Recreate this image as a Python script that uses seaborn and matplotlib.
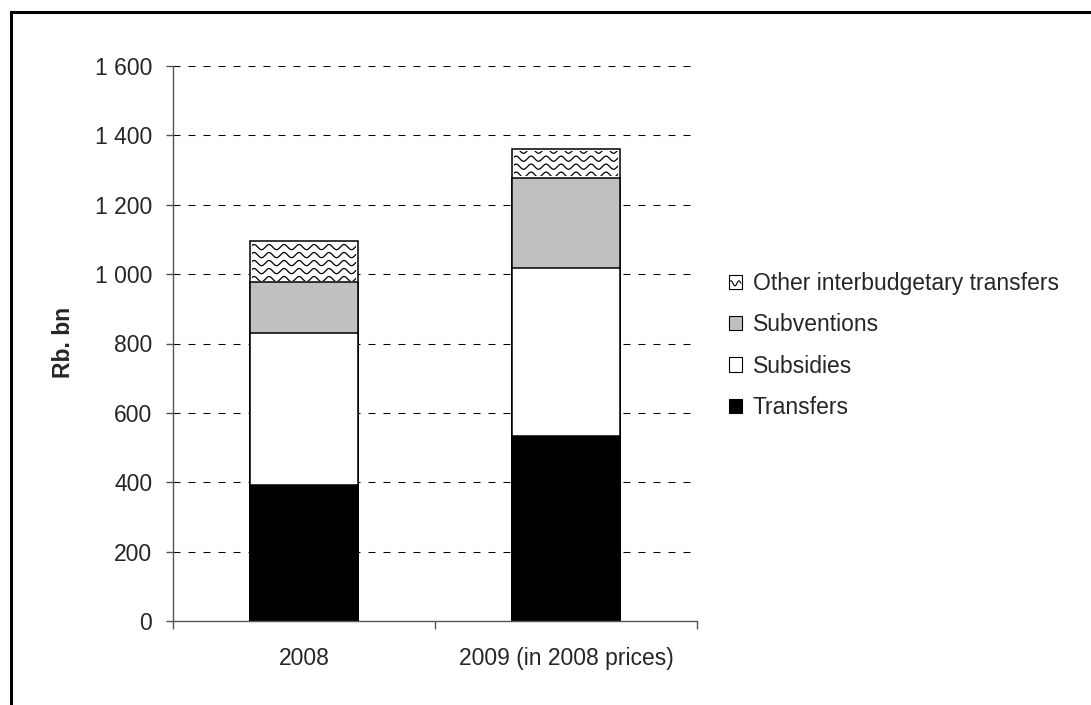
import numpy as np
import matplotlib
matplotlib.use("Agg")
import matplotlib.pyplot as plt
import seaborn as sns
from matplotlib.patches import Patch, Rectangle
from matplotlib.lines import Line2D
from matplotlib.legend_handler import HandlerBase
from matplotlib.transforms import IdentityTransform
from matplotlib.ticker import FuncFormatter, FixedLocator

# Federal budget transfers to regions, Rb. bn
categories = ["2008", "2009 (in 2008 prices)"]
transfers = [392, 533]
subsidies = [438, 485]
subventions = [147, 260]
other = [118, 82]

series_names = ["Transfers", "Subsidies", "Subventions", "Other interbudgetary transfers"]
series_values = [transfers, subsidies, subventions, other]
series_colors = ["#000000", "#ffffff", "#c0c0c0", "#ffffff"]

y_ticks = [0, 200, 400, 600, 800, 1000, 1200, 1400, 1600]

sns.set_style("white")
plt.rcParams["font.family"] = ["Liberation Sans", "DejaVu Sans"]
FS = 16.5

W, H = 1091, 705
fig = plt.figure(figsize=(W / 100, H / 100), dpi=100)
ax = fig.add_axes([173 / W, 1 - 621 / H, (697 - 173) / W, (621 - 66) / H])
ax.set_axisbelow(True)

# Stacked bars: draw cumulative totals from the top segment down
cum = np.cumsum(np.array(series_values), axis=0)
bar_width = 0.41
edge_lw = 1.1
for i in range(len(series_values) - 1, -1, -1):
    sns.barplot(x=categories, y=cum[i], color=series_colors[i], saturation=1,
                width=bar_width, edgecolor="black", linewidth=edge_lw,
                errorbar=None, ax=ax)

ax.set_xlim(-0.5, 1.5)
ax.set_ylim(0, 1600)

# Wavy fill for the top segment, clipped to its rectangle
fig.canvas.draw()
for j in range(len(categories)):
    x0, y0 = ax.transData.transform((j - bar_width / 2, cum[2][j]))
    x1, y1 = ax.transData.transform((j + bar_width / 2, cum[3][j]))
    inset = 1.4
    clip = Rectangle((x0 + inset, y0 + inset), (x1 - x0) - 2 * inset, (y1 - y0) - 2 * inset,
                     transform=IdentityTransform(), facecolor="none", edgecolor="none")
    xs = np.linspace(x0 - 5, x1 + 5, 400)
    yy = y0 + 3
    while yy < y1 + 8:
        ys = yy + 2.6 * np.sin(2 * np.pi * (xs - x0) / 15.0)
        ln = Line2D(xs, ys, color="black", lw=0.9, zorder=5)
        ax.add_line(ln)
        ln.set_transform(IdentityTransform())
        ln.set_clip_path(clip)
        yy += 8.0

# Axes styling
for s in ["top", "right"]:
    ax.spines[s].set_visible(False)
for s in ["left", "bottom"]:
    ax.spines[s].set_color("#555555")
    ax.spines[s].set_linewidth(1.0)

ax.yaxis.set_major_locator(FixedLocator(y_ticks))
ax.yaxis.set_major_formatter(FuncFormatter(lambda v, p: f"{int(v):,}".replace(",", " ")))
ax.tick_params(axis="y", which="major", direction="out", length=5, width=1, color="#555555",
               pad=10, labelsize=FS, left=True)
for v in y_ticks[1:]:
    ax.axhline(v, color="black", lw=0.75, linestyle=(0, (6.7, 7.7)), zorder=0.5)

ax.set_xticks([-0.5, 0.5, 1.5])
ax.set_xticklabels(["", "", ""])
ax.set_xticks([0, 1], minor=True)
ax.set_xticklabels(categories, minor=True)
ax.tick_params(axis="x", which="major", direction="out", length=6, width=1, color="#555555", bottom=True)
ax.tick_params(axis="x", which="minor", length=0, pad=18.5, labelsize=FS, bottom=True)

ax.set_xlabel("")
ax.set_ylabel("Rb. bn", fontsize=FS, fontweight="bold")
ax.yaxis.set_label_coords(63 / W, 1 - 342 / H, transform=fig.transFigure)
ax.yaxis.label.set_verticalalignment("center")


class WaveHandler(HandlerBase):
    def create_artists(self, legend, orig_handle, xdescent, ydescent, width, height, fontsize, trans):
        rect = Rectangle((-xdescent, -ydescent), width, height, facecolor="white",
                         edgecolor="black", lw=0.8, transform=trans)
        xs = np.linspace(-xdescent + 1, -xdescent + width - 1, 30)
        ys = -ydescent + height * 0.4 + height * 0.18 * np.sin(2 * np.pi * xs / (width * 0.6))
        line = Line2D(xs, ys, color="black", lw=0.8, transform=trans)
        return [rect, line]


handles = []
for name, col in zip(series_names, series_colors):
    handles.append(Patch(facecolor=col, edgecolor="black", linewidth=0.8, label=name))
handles = handles[::-1]
leg = fig.legend(handles=handles, labels=[h.get_label() for h in handles],
                 loc="upper left", bbox_to_anchor=(729 / W, 1 - 272 / H),
                 frameon=False, fontsize=FS, handlelength=0.58, handleheight=0.58,
                 handletextpad=0.45, labelspacing=0.8, borderpad=0, borderaxespad=0,
                 handler_map={handles[0]: WaveHandler()})

# Outer frame lines
fig.add_artist(Line2D([10.5 / W, 10.5 / W], [0, 1 - 12 / H], color="black", lw=2.2,
                      solid_capstyle="projecting"))
fig.add_artist(Line2D([10.5 / W, 1], [1 - 12 / H, 1 - 12 / H], color="black", lw=2.2,
                      solid_capstyle="projecting"))

fig.savefig("out.png", dpi=100)
